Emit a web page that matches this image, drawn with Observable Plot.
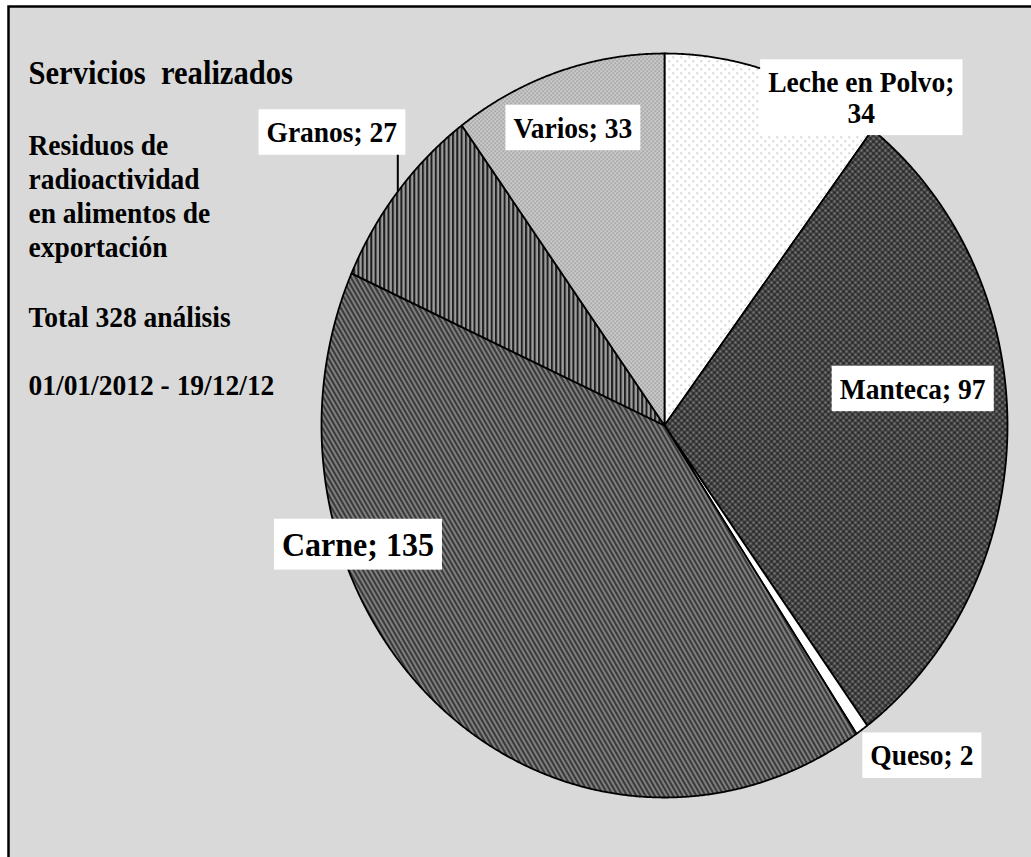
<!DOCTYPE html>
<html>
<head>
<meta charset="utf-8">
<script src="https://cdn.jsdelivr.net/npm/d3@7"></script>
<script src="https://cdn.jsdelivr.net/npm/@observablehq/plot@0.6"></script>
<style>
  html, body { margin: 0; padding: 0; background: #ffffff; overflow: hidden; }
  #chart svg { display: block; }
  #chart svg, #chart svg text, #chart svg tspan {
    font-family: "Liberation Serif", "Times New Roman", Tinos, serif !important;
  }
</style>
</head>
<body>
<div id="chart"></div>
<script>
// ---- data ----
const categories = ["Leche en Polvo", "Manteca", "Queso", "Carne", "Granos", "Varios"];
const counts = [34, 97, 2, 135, 27, 33];
const titleText = "Servicios  realizados";
const subtitleLines = ["Residuos de", "radioactividad", "en alimentos de", "exportación"];
const periodText = "01/01/2012 - 19/12/12";

// ---- layout ----
const W = 1031, H = 857;
const SY = 1.08;                 // vertical stretch of the original picture
const FONT = "'Liberation Serif', 'Times New Roman', serif";
const pieX = [321, 1007], pieY = [797, 53];
const labelLayout = {
  "Leche en Polvo": {r: 0.7, dx: 120, dy: -81, size: 27.5, wrap: true},
  "Manteca":        {r: 0.7, dx: 8,   dy: -39, size: 27.5},
  "Queso":          {r: 1.0, dx: 60,  dy: 26,  size: 27.5},
  "Carne":          {r: 0.7, dx: -152, dy: -80, size: 32},
  "Granos":         {r: 1.0, dx: -66, dy: -59, size: 27.5, leader: true},
  "Varios":         {r: 0.7, dx: -17, dy: -50, size: 27.5}
};
const leftFont = 27.5, titleFont = 30.6;
const leftX = 28;
const total = d3.sum(counts);
const leftLines = [titleText, ...subtitleLines, `Total ${total} análisis`, periodText];
const leftBaselines = [83, 154, 188, 222, 256, 326, 394];
const leftSizes = [titleFont, leftFont, leftFont, leftFont, leftFont, leftFont, leftFont];

// ---- slice geometry (unit circle, angles clockwise from 12 o'clock) ----
const arcs = d3.pie().sort(null).value(d => d)(counts);
const slices = arcs.map((a, i) => {
  const n = Math.max(4, Math.ceil((a.endAngle - a.startAngle) / (Math.PI / 720)));
  const pts = [{u: 0, v: 0}];
  for (let k = 0; k <= n; k++) {
    const t = a.startAngle + (a.endAngle - a.startAngle) * k / n;
    pts.push({u: Math.sin(t), v: Math.cos(t)});
  }
  pts.push({u: 0, v: 0});
  return {name: categories[i], value: counts[i], mid: (a.startAngle + a.endAngle) / 2, pts, idx: i};
});

const pxPerV = (pieY[0] - pieY[1]) / 2;

const sliceMarks = slices.map(s => Plot.line(s.pts, {
  x: "u", y: "v", fill: `url(#pat${s.idx})`, stroke: "black",
  strokeWidth: 1.8, strokeLinejoin: "round", curve: "linear"
}));

const leaderMarks = slices.filter(s => labelLayout[s.name].leader).map(s => {
  const L = labelLayout[s.name];
  return Plot.link([s], {
    x1: d => Math.sin(d.mid), y1: d => Math.cos(d.mid),
    x2: d => Math.sin(d.mid), y2: d => Math.cos(d.mid) - L.dy / pxPerV,
    stroke: "black", strokeWidth: 2
  });
});

const labelText = s => labelLayout[s.name].wrap ? `${s.name};\n${s.value}` : `${s.name}; ${s.value}`;
const labelMarks = slices.map(s => {
  const L = labelLayout[s.name];
  return Plot.text([s], {
    x: d => L.r * Math.sin(d.mid), y: d => L.r * Math.cos(d.mid),
    text: labelText, dx: L.dx, dy: L.dy, fontSize: L.size, fontWeight: "bold",
    fontFamily: FONT, fill: "#000000", textAnchor: "middle", lineAnchor: "middle", lineHeight: 1.02
  });
});

const leftMarks = leftLines.map((line, i) => Plot.text([line], {
  frameAnchor: "top-left", text: d => d, dx: leftX,
  dy: leftBaselines[i] - 0.32 * leftSizes[i] * SY,
  textAnchor: "start", lineAnchor: "middle", fontFamily: FONT,
  fontSize: leftSizes[i], fontWeight: "bold", fill: "#000000"
}));

const chart = Plot.plot({
  width: W, height: H, margin: 0,
  x: {domain: [-1, 1], range: pieX, axis: null},
  y: {domain: [-1, 1], range: pieY, axis: null},
  style: {fontFamily: FONT, background: "#ffffff", overflow: "hidden"},
  marks: [
    Plot.frame({fill: "#d9d9d9", stroke: "black", strokeWidth: 2.5,
      insetLeft: 8, insetTop: 6, insetRight: -10, insetBottom: -10}),
    ...sliceMarks,
    ...leaderMarks,
    ...labelMarks,
    ...leftMarks
  ]
});

document.getElementById("chart").append(chart);

// ---- fill patterns ----
const defs = `
<pattern id="pat0" width="8" height="8" patternUnits="userSpaceOnUse">
  <rect width="8" height="8" fill="#ffffff"/>
  <rect x="0" y="0" width="1.4" height="1.4" fill="#a8a8a8"/>
  <rect x="4" y="4" width="1.4" height="1.4" fill="#a8a8a8"/>
</pattern>
<pattern id="pat1" width="6" height="6" patternUnits="userSpaceOnUse">
  <rect width="6" height="6" fill="#7c7c7c"/>
  <circle cx="0" cy="0" r="2" fill="#2c2c2c"/>
  <circle cx="6" cy="0" r="2" fill="#2c2c2c"/>
  <circle cx="0" cy="6" r="2" fill="#2c2c2c"/>
  <circle cx="6" cy="6" r="2" fill="#2c2c2c"/>
  <circle cx="3" cy="3" r="2" fill="#2c2c2c"/>
</pattern>
<pattern id="pat2" width="4" height="4" patternUnits="userSpaceOnUse">
  <rect width="4" height="4" fill="#ffffff"/>
</pattern>
<pattern id="pat3" width="4" height="4" patternUnits="userSpaceOnUse" patternTransform="rotate(-30)">
  <rect width="4" height="4" fill="#7e7e7e"/>
  <rect width="2" height="4" fill="#3a3a3a"/>
</pattern>
<pattern id="pat4" width="4.3" height="4" patternUnits="userSpaceOnUse">
  <rect width="4.3" height="4" fill="#9c9c9c"/>
  <rect width="2" height="4" fill="#1e1e1e"/>
</pattern>
<pattern id="pat5" width="4" height="4" patternUnits="userSpaceOnUse">
  <rect width="4" height="4" fill="#cccccc"/>
  <rect x="0" y="0" width="1.4" height="1.4" fill="#858585"/>
  <rect x="2" y="2" width="1.4" height="1.4" fill="#858585"/>
</pattern>`;
d3.select(chart).insert("defs", ":first-child").html(defs);

// ---- white label boxes + vertical stretch of all text ----
const labelSet = new Set(slices.map(s => labelText(s).replace(/\n/g, "")));
const padX = 8, padY = 6;
chart.querySelectorAll("text").forEach(t => {
  let tr = t.getAttribute("transform");
  if (!tr) {
    const x = +(t.getAttribute("x") || 0), y = +(t.getAttribute("y") || 0);
    t.removeAttribute("x"); t.removeAttribute("y");
    tr = `translate(${x},${y})`;
  }
  const full = `${tr} scale(1,${SY})`;
  if (labelSet.has(t.textContent)) {
    const b = t.getBBox();
    const rect = document.createElementNS("http://www.w3.org/2000/svg", "rect");
    rect.setAttribute("x", b.x - padX);
    rect.setAttribute("y", b.y - padY / SY);
    rect.setAttribute("width", b.width + 2 * padX);
    rect.setAttribute("height", b.height + 2 * padY / SY);
    rect.setAttribute("fill", "#ffffff");
    rect.setAttribute("stroke", "none");
    rect.setAttribute("transform", full);
    t.parentNode.insertBefore(rect, t);
  }
  t.setAttribute("transform", full);
});
</script>
</body>
</html>
